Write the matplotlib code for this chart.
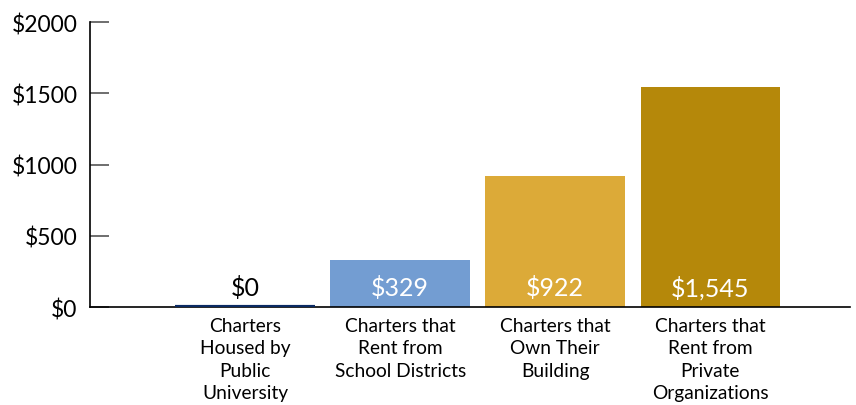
import matplotlib
matplotlib.use("Agg")
import matplotlib.pyplot as plt

# datos del gráfico
categorias = [
    "Charters\nHoused by\nPublic\nUniversity",
    "Charters that\nRent from\nSchool Districts",
    "Charters that\nOwn Their\nBuilding",
    "Charters that\nRent from\nPrivate\nOrganizations",
]
valores = [0, 329, 922, 1545]
etiquetas_valor = ["$0", "$329", "$922", "$1,545"]
colores = ["#0b2a63", "#739dd2", "#dcaa38", "#b5880a"]
ticks_y = [0, 500, 1000, 1500, 2000]
etiquetas_y = ["$0", "$500", "$1000", "$1500", "$2000"]

plt.rcParams['font.family'] = ['Lato', 'DejaVu Sans']

fig = plt.figure(figsize=(8.56, 4.06), dpi=100)
ax = fig.add_axes([0.105, 0.241, 0.888, 0.702])

posiciones = list(range(len(valores)))
ax.bar(posiciones, valores, width=0.9, color=colores,
       edgecolor=colores, linewidth=0)
# barra de valor cero: se marca con una línea fina
ax.hlines(valores[0], -0.45, 0.45, color=colores[0], lw=3, zorder=3)

for x, v, txt in zip(posiciones, valores, etiquetas_valor):
    color_txt = "black" if v < 200 else "white"
    ax.text(x, 140, txt, ha="center", va="center", fontsize=18, color=color_txt)

ax.set_xlim(-1.0, 3.9)
ax.set_ylim(0, 2000)
ax.set_yticks(ticks_y)
ax.set_yticklabels(etiquetas_y, fontsize=16.5)
ax.set_xticks(posiciones)
ax.set_xticklabels(categorias, fontsize=13.8, linespacing=1.38)

ax.tick_params(axis="y", direction="in", length=14, width=1.2, color="#555555", pad=9)
ax.tick_params(axis="x", length=0, pad=7)

for lado in ["top", "right"]:
    ax.spines[lado].set_visible(False)
ax.spines["left"].set_linewidth(1.2)
ax.spines["bottom"].set_linewidth(1.2)

fig.savefig("out.png", dpi=100)
